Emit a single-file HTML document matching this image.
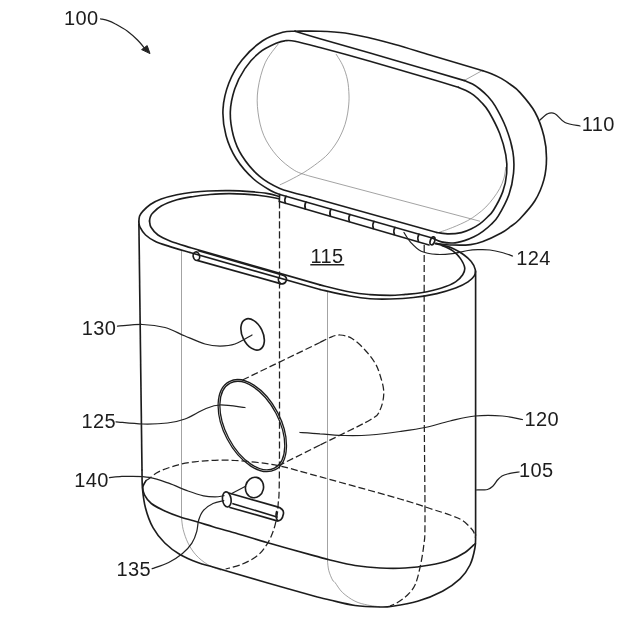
<!DOCTYPE html>
<html><head><meta charset="utf-8"><title>Fig</title>
<style>
html,body{margin:0;padding:0;background:#fff;}
body{width:640px;height:620px;overflow:hidden;}
svg{display:block;}
.m path,.m ellipse{fill:none;stroke:#1e1e1e;stroke-width:1.65;stroke-linecap:round;stroke-linejoin:round;}
.t path{fill:none;stroke:#8c8c8c;stroke-width:0.8;}
.d path{fill:none;stroke:#222;stroke-width:1.25;stroke-dasharray:7 3;}
.l path{fill:none;stroke:#222;stroke-width:1.25;stroke-linecap:round;}
text{font-family:"Liberation Sans",sans-serif;font-size:20px;letter-spacing:0.35px;fill:#1c1c1c;}
</style></head><body>
<svg width="640" height="620" viewBox="0 0 640 620">
<rect width="640" height="620" fill="#fff"/>
<defs><filter id="sf" x="0" y="0" width="640" height="620" filterUnits="userSpaceOnUse"><feGaussianBlur stdDeviation="0.4"/></filter></defs>
<g filter="url(#sf)">
<g class="t">
<path d="M464 80.6 L482 70.7"/>
<path d="M278.3 43.9 C276.1 47.0 268.6 55.3 265.2 62.8 C261.8 70.3 259.2 80.8 258.0 89.0 C256.8 97.2 257.0 104.5 258.0 112.2 C259.0 120.0 260.7 128.2 263.8 135.5 C266.9 142.8 271.8 150.0 276.9 155.8 C282.0 161.6 288.8 166.9 294.3 170.3 C299.8 173.7 307.4 175.2 310.0 176.2"/>
<path d="M310 176.2 L480 221.25"/>
<path d="M336.0 54.0 C337.2 56.0 341.1 61.7 343.0 66.0 C344.9 70.3 346.5 75.2 347.5 80.0 C348.5 84.8 348.8 90.5 349.0 95.0 C349.2 99.5 348.9 103.0 348.5 107.0 C348.1 111.0 347.4 115.2 346.5 119.0 C345.6 122.8 344.6 126.2 343.0 130.0 C341.4 133.8 339.5 138.0 337.0 142.0 C334.5 146.0 331.2 150.5 328.0 154.0 C324.8 157.5 321.5 159.9 317.5 163.0 C313.5 166.1 308.3 169.7 303.8 172.5 C299.2 175.3 294.0 177.9 290.0 180.0 C286.0 182.1 281.5 184.1 279.8 184.9"/>
<path d="M438.4 232.6 C440.8 231.8 447.6 229.5 452.5 227.5 C457.4 225.5 463.4 222.9 467.5 220.7 C471.6 218.5 473.9 216.8 477.0 214.5 C480.1 212.2 483.1 209.8 485.9 207.0 C488.6 204.2 491.2 201.1 493.5 198.0 C495.8 194.9 497.9 191.9 499.7 188.6 C501.4 185.3 503.0 181.6 504.0 178.0 C505.0 174.4 505.5 168.8 505.8 167.0"/>
<path d="M181.5 250.5 L181.5 518"/>
<path d="M181.5 518.0 C181.8 519.9 182.1 525.4 183.2 529.6 C184.3 533.8 185.9 538.8 188.0 543.0 C190.1 547.2 192.6 551.2 195.8 554.8 C199.0 558.4 203.2 561.8 207.4 564.4 C211.6 567.0 218.7 569.3 221.0 570.3"/>
<path d="M327.5 291.5 L327.5 561"/>
<path d="M327.5 561.0 C327.7 562.6 327.9 567.4 328.8 570.6 C329.6 573.8 331.5 578.0 332.5 580.0 C333.5 582.0 333.3 580.4 335.0 582.5 C336.7 584.6 339.2 589.4 342.5 592.5 C345.8 595.6 350.8 599.2 355.0 601.2 C359.2 603.3 363.3 604.1 367.5 605.0 C371.7 605.9 377.9 606.5 380.0 606.8"/>
</g>
<g class="m">
<path d="M279.8 194.5 C278.3 193.9 275.4 193.3 271.0 190.7 C266.6 188.1 259.4 184.3 253.6 179.0 C247.8 173.7 240.8 165.9 236.2 158.7 C231.6 151.4 228.2 143.7 226.0 135.5 C223.8 127.3 222.5 118.0 223.0 109.3 C223.5 100.5 225.7 91.2 228.9 83.0 C232.1 74.8 236.4 67.0 242.0 60.0 C247.6 53.0 255.5 45.6 262.3 41.0 C269.1 36.4 277.2 33.9 282.7 32.3 C288.1 30.7 292.9 31.4 295.0 31.2"/>
<path d="M295.0 31.2 C299.2 32.5 307.5 35.1 320.0 38.8 C332.5 42.4 351.7 47.7 370.0 53.0 C388.3 58.3 414.2 65.9 430.0 70.5 C445.8 75.1 458.8 78.9 464.5 80.6"/>
<path d="M464.5 80.6 C465.8 81.2 469.9 82.6 472.5 84.0 C475.1 85.4 477.2 86.9 479.8 89.0 C482.4 91.1 485.4 93.7 488.0 96.5 C490.6 99.3 492.1 100.8 495.1 105.9 C498.1 111.0 502.8 119.6 505.8 127.3 C508.8 134.9 511.6 144.1 512.9 151.8 C514.2 159.5 514.2 166.2 513.5 173.3 C512.8 180.5 511.4 187.6 508.9 194.7 C506.3 201.8 501.2 211.1 498.2 216.1 C495.2 221.1 493.6 221.9 491.0 224.5 C488.4 227.1 485.7 229.3 482.9 231.4 C480.1 233.5 477.1 235.3 474.0 236.8 C470.9 238.3 468.0 239.6 464.5 240.6 C461.0 241.6 456.8 242.8 453.0 243.0 C449.2 243.2 445.0 242.7 441.5 241.9 C438.0 241.1 433.8 238.7 432.2 238.0"/>
<path d="M279.8 194.5 L432.2 238"/>
<path d="M310.0 197.0 C305.0 195.6 288.2 191.9 279.8 188.4 C271.4 184.9 265.7 181.6 259.4 176.2 C253.1 170.8 246.3 162.6 242.0 155.8 C237.7 149.0 235.2 142.8 233.3 135.5 C231.4 128.2 230.1 120.0 230.3 112.2 C230.5 104.5 232.3 96.3 234.7 89.0 C237.1 81.7 240.8 74.7 244.9 68.6 C249.0 62.5 254.1 56.9 259.4 52.6 C264.7 48.3 272.6 45.0 276.9 43.0 C281.2 41.0 282.0 41.0 285.0 40.8 C288.0 40.5 289.2 40.1 295.0 41.2 C300.8 42.4 307.5 44.2 320.0 47.5 C332.5 50.8 351.7 56.0 370.0 61.2 C388.3 66.5 415.3 74.4 430.0 78.8 C444.7 83.1 453.7 85.9 458.4 87.3"/>
<path d="M458.4 87.3 C459.7 87.8 463.4 89.2 466.0 90.5 C468.6 91.8 471.1 93.2 473.7 95.2 C476.3 97.2 478.9 99.7 481.5 102.5 C484.1 105.3 486.0 106.8 489.0 112.0 C492.0 117.2 496.9 126.3 499.7 133.5 C502.5 140.7 504.6 148.3 505.8 154.9 C507.0 161.5 507.2 167.2 506.7 173.3 C506.2 179.4 505.0 185.5 502.8 191.6 C500.6 197.7 496.2 205.7 493.6 210.0 C491.0 214.3 489.3 215.2 487.0 217.5 C484.7 219.8 482.5 221.9 479.8 223.8 C477.1 225.7 474.1 227.5 471.0 229.0 C467.9 230.5 465.1 231.8 461.4 232.6 C457.7 233.4 453.1 233.9 449.0 233.9 C444.9 233.9 438.9 232.7 436.9 232.5"/>
<path d="M310 197 L436.9 232.5"/>
<path d="M295.0 31.2 C299.2 31.2 311.7 31.0 320.0 31.2 C328.3 31.5 336.7 31.9 345.0 33.0 C353.3 34.1 361.7 36.1 370.0 38.0 C378.3 39.9 385.0 41.7 395.0 44.5 C405.0 47.3 415.4 50.6 430.0 55.0 C444.6 59.4 474.1 68.1 482.9 70.7"/>
<path d="M482.9 70.7 C484.4 71.2 488.9 72.7 492.0 74.0 C495.1 75.3 498.1 76.7 501.2 78.4 C504.3 80.2 507.4 82.2 510.5 84.5 C513.6 86.8 515.5 87.5 519.6 92.1 C523.7 96.7 530.8 104.6 534.9 112.0 C539.0 119.4 542.1 128.8 544.0 136.5 C545.9 144.2 546.5 150.8 546.5 158.0 C546.5 165.2 545.9 172.3 544.0 179.4 C542.1 186.5 539.0 194.2 534.9 200.8 C530.8 207.4 523.7 214.9 519.6 219.2 C515.5 223.5 513.6 224.4 510.5 226.7 C507.4 229.0 505.8 230.5 501.2 233.0 C496.6 235.5 488.0 239.6 482.9 241.5 C477.8 243.4 475.7 244.0 470.6 244.6 C465.5 245.2 458.3 245.2 452.5 245.0 C446.7 244.8 438.8 243.7 436.0 243.4"/>
<path d="M279.5 201.5 L429 245"/>
<path d="M279.6 194.5 L279.3 201.5"/>
<ellipse cx="432.5" cy="240.8" rx="2.2" ry="4.1" transform="rotate(18 432.5 240.8)"/>
<path d="M286.0 196.3 q-2 3.2 -0.6 7"/>
<path d="M306.0 202.0 q-2 3.2 -0.6 7"/>
<path d="M331.0 209.1 q-2 3.2 -0.6 7"/>
<path d="M350.0 214.5 q-2 3.2 -0.6 7"/>
<path d="M374.0 221.4 q-2 3.2 -0.6 7"/>
<path d="M395.0 227.4 q-2 3.2 -0.6 7"/>
<path d="M419.0 234.2 q-2 3.2 -0.6 7"/>
<path d="M138.8 222.0 C138.9 221.0 139.0 217.7 139.6 216.0 C140.2 214.3 140.7 213.5 142.5 211.6 C144.3 209.7 147.2 206.6 150.3 204.5 C153.4 202.4 156.8 200.6 161.2 199.0 C165.7 197.4 171.7 195.8 176.9 194.7 C182.1 193.6 187.3 192.9 192.5 192.3 C197.7 191.7 201.8 191.3 208.0 191.0 C214.2 190.7 223.0 190.5 230.0 190.6 C237.0 190.7 243.7 191.1 250.0 191.6 C256.3 192.1 263.2 192.8 268.0 193.6 C272.8 194.4 277.2 195.9 279.0 196.3"/>
<path d="M435.3 243.6 C436.8 243.9 441.1 244.8 444.0 245.6 C446.9 246.4 449.3 246.8 452.5 248.3 C455.7 249.8 460.3 252.3 463.4 254.5 C466.5 256.7 469.3 259.1 471.2 261.6 C473.2 264.1 474.7 267.1 475.2 269.4 C475.7 271.7 475.6 273.5 474.4 275.6 C473.2 277.7 471.1 279.8 468.0 281.9 C464.9 284.0 460.8 286.1 455.6 288.0 C450.4 289.9 443.9 292.0 436.9 293.6 C429.9 295.2 421.2 296.6 413.4 297.5 C405.6 298.4 397.2 298.8 390.0 299.0 C382.8 299.2 376.7 299.2 370.0 298.7 C363.3 298.2 358.3 297.5 350.0 296.0 C341.7 294.5 325.0 290.6 320.0 289.5"/>
<path d="M320 289.5 L190 252.5"/>
<path d="M190.0 252.5 C186.7 251.5 175.8 248.5 170.0 246.6 C164.2 244.7 159.1 243.2 155.0 241.2 C150.9 239.3 148.1 237.3 145.6 235.0 C143.1 232.7 141.1 229.4 140.0 227.2 C138.9 225.0 139.0 222.9 138.8 222.0"/>
<path d="M149.5 221.0 C149.6 220.3 149.8 218.3 150.3 217.0 C150.8 215.7 150.9 214.8 152.7 213.0 C154.5 211.2 157.2 208.2 161.2 206.0 C165.3 203.8 171.7 201.4 176.9 199.8 C182.1 198.2 187.3 197.5 192.5 196.7 C197.7 195.8 201.8 195.2 208.0 194.7 C214.2 194.2 221.7 193.5 230.0 193.6 C238.3 193.7 249.8 194.3 258.0 195.2 C266.2 196.0 275.5 198.1 279.0 198.7"/>
<path d="M441.5 245.2 C443.3 246.1 449.4 248.4 452.5 250.6 C455.6 252.8 458.3 255.5 460.3 258.4 C462.3 261.3 464.3 265.1 464.7 267.8 C465.1 270.5 464.2 272.5 462.7 274.8 C461.2 277.1 459.1 279.7 455.6 281.9 C452.1 284.1 447.2 286.2 441.5 288.0 C435.8 289.8 427.2 291.7 421.2 292.8 C415.3 293.9 410.8 294.0 405.6 294.4 C400.4 294.8 395.9 295.4 390.0 295.4 C384.1 295.4 376.7 295.2 370.0 294.6 C363.3 294.0 358.3 293.6 350.0 292.0 C341.7 290.4 325.0 286.1 320.0 284.9"/>
<path d="M320 284.9 L190 247.5"/>
<path d="M190.0 247.5 C186.7 246.4 175.3 243.0 170.0 240.9 C164.7 238.8 161.2 237.3 158.0 235.0 C154.8 232.7 152.4 229.5 151.0 227.2 C149.6 224.9 149.8 222.0 149.5 221.0"/>
<path d="M138.9 224 L142 470"/>
<path d="M475.6 271 L475.6 535"/>
<path d="M142.0 470.0 C142.1 473.2 141.9 482.7 142.5 489.0 C143.1 495.3 143.8 501.6 145.5 508.0 C147.2 514.5 149.8 521.9 153.0 527.7 C156.2 533.5 160.2 538.5 164.8 543.0 C169.4 547.5 174.8 551.5 180.3 554.8 C185.8 558.0 192.2 560.5 197.7 562.5 C203.1 564.5 207.6 565.4 213.0 567.0 C218.4 568.6 221.0 569.4 230.0 572.0 C239.0 574.6 252.9 578.8 266.9 582.8 C280.9 586.8 303.2 593.1 313.8 596.0 C324.3 598.9 323.1 598.4 330.0 600.0 C336.9 601.6 346.7 604.3 355.0 605.5 C363.3 606.7 373.8 606.9 380.0 607.0 C386.2 607.1 386.2 607.2 392.5 606.2 C398.8 605.3 409.2 603.8 417.5 601.2 C425.8 598.8 435.4 595.0 442.5 591.2 C449.6 587.5 455.4 583.1 460.0 578.8 C464.6 574.4 467.5 570.2 470.0 565.0 C472.5 559.8 474.1 552.5 475.0 547.5 C475.9 542.5 475.5 537.1 475.6 535.0"/>
<path d="M146.0 480.6 C145.5 481.7 143.1 484.6 142.8 487.0 C142.6 489.4 143.1 492.1 144.5 494.8 C145.9 497.6 147.9 500.8 151.3 503.5 C154.7 506.2 160.0 508.8 164.8 511.0 C169.6 513.2 174.8 515.2 180.3 517.0 C185.8 518.8 192.2 520.4 197.7 522.0 C203.1 523.6 207.6 525.1 213.0 526.7 C218.4 528.3 221.0 528.9 230.0 531.5 C239.0 534.1 252.9 538.5 266.9 542.5 C280.9 546.5 303.2 552.7 313.8 555.6 C324.3 558.5 323.1 558.4 330.0 560.0 C336.9 561.6 346.7 564.2 355.0 565.5 C363.3 566.8 371.7 567.6 380.0 568.0 C388.3 568.4 396.7 568.5 405.0 568.0 C413.3 567.5 422.5 566.3 430.0 565.0 C437.5 563.7 444.2 562.1 450.0 560.0 C455.8 557.9 460.8 555.2 465.0 552.5 C469.2 549.8 473.6 545.0 475.3 543.5"/>
<path d="M198.5 250.7 L283 275.2"/>
<path d="M198 260.6 L280.5 283.6"/>
<ellipse cx="196.4" cy="256.2" rx="3.2" ry="4.3" transform="rotate(-12 196.4 256.2)"/>
<path d="M283 275.2 C286 276.2 287 278.5 286.3 280.5 C285.3 283.5 283 284.4 280.5 283.6"/>
<path d="M278.6 277.5 C278 280 279 282.5 280.5 283.6"/>
<ellipse cx="252.6" cy="334.4" rx="10.2" ry="16.7" transform="rotate(-26 252.6 334.4)"/>
<ellipse cx="252.3" cy="425.6" rx="28.5" ry="49.7" transform="rotate(-27.6 252.3 425.6)" style="stroke-width:1.3"/>
<ellipse cx="252.3" cy="425.6" rx="26.7" ry="47.9" transform="rotate(-27.6 252.3 425.6)" style="stroke-width:1.3"/>
<ellipse cx="254.5" cy="487.5" rx="9" ry="10.3" transform="rotate(12 254.5 487.5)"/>
<path d="M228.75 493 L277.5 506.9"/>
<path d="M230 507.5 L276.25 520.6"/>
<path d="M233 503.7 L277 517"/>
<ellipse cx="226.8" cy="499.4" rx="4.3" ry="7.6" transform="rotate(-8 226.8 499.4)"/>
<path d="M277.5 506.9 C282 508.3 284 511 283.4 514 C282.6 519 280 521.6 276.25 520.6"/>
<path d="M276.6 511.5 C275.6 515 276 518.5 277.8 520.8"/>
</g>
<g class="d">
<path d="M279.5 201.5 C279.5 217.9 279.5 255.2 279.5 300.0 C279.5 344.8 279.6 435.8 279.4 470.0 C279.2 504.2 278.6 496.7 278.1 505.0 C277.6 513.3 277.2 515.3 276.2 520.0 C275.3 524.7 274.1 528.9 272.5 533.0 C270.9 537.1 269.4 540.6 266.9 544.4 C264.4 548.2 261.6 552.3 257.5 555.6 C253.4 558.9 247.8 561.8 242.5 564.0 C237.2 566.2 228.4 568.2 225.6 569.0"/>
<path d="M424.2 245.0 C424.2 270.8 424.1 354.2 424.2 400.0 C424.3 445.8 425.1 495.8 425.0 520.0 C424.9 544.2 424.6 537.1 423.8 545.0 C422.9 552.9 421.5 560.8 420.0 567.5 C418.5 574.2 417.1 580.4 415.0 585.0 C412.9 589.6 410.4 592.1 407.5 595.0 C404.6 597.9 400.4 600.7 397.5 602.5 C394.6 604.3 391.2 605.4 390.0 606.0"/>
<path d="M146.0 480.6 C146.6 480.2 147.1 479.9 149.3 478.4 C151.5 476.9 154.2 473.9 159.0 471.6 C163.8 469.3 172.0 466.5 178.4 464.8 C184.8 463.1 191.6 462.2 197.7 461.5 C203.8 460.8 208.8 460.5 215.0 460.3 C221.2 460.1 227.8 460.1 235.0 460.5 C242.2 460.9 250.5 461.6 258.0 462.5 C265.5 463.4 271.3 464.1 280.0 466.0 C288.7 467.9 290.0 468.5 310.0 474.0 C330.0 479.5 380.0 493.2 400.0 499.0 C420.0 504.8 421.7 505.8 430.0 508.5 C438.3 511.2 444.6 513.0 450.0 515.0 C455.4 517.0 458.8 518.0 462.5 520.5 C466.2 523.0 470.3 527.2 472.5 530.0 C474.7 532.8 475.0 536.2 475.5 537.5"/>
<path d="M242.5 380 L320 342.5"/>
<path d="M320.0 342.5 C321.7 341.7 326.7 338.8 330.0 337.5 C333.3 336.2 336.3 334.8 340.0 335.0 C343.7 335.2 347.8 336.0 352.0 338.5 C356.2 341.0 361.2 345.9 365.0 350.0 C368.8 354.1 372.5 358.8 375.0 363.0 C377.5 367.2 378.5 370.1 380.0 375.0 C381.5 379.9 383.8 386.7 383.8 392.5 C383.8 398.3 382.3 405.4 380.0 410.0 C377.7 414.6 380.0 414.2 370.0 420.0 C360.0 425.8 328.3 440.8 320.0 445.0"/>
<path d="M320 445 L280 465"/>
</g>
<g class="l">
<path d="M100.6 18.8 C101.8 19.1 105.6 19.8 108.0 20.6 C110.4 21.4 111.8 22.0 115.0 23.8 C118.2 25.5 123.8 28.5 127.5 31.2 C131.2 34.0 134.6 37.1 137.5 40.0 C140.4 42.9 143.8 47.3 145.0 48.8"/>
<path d="M540.0 120.0 C541.2 119.0 545.0 114.8 547.5 113.8 C550.0 112.7 552.1 112.3 555.0 113.8 C557.9 115.2 560.8 120.5 565.0 122.5 C569.2 124.5 577.5 125.4 580.0 126.0"/>
<path d="M404.0 232.5 C405.1 234.1 407.4 238.8 410.3 241.9 C413.2 245.0 416.8 249.2 421.2 251.2 C425.7 253.3 431.7 254.0 436.9 254.4 C442.1 254.8 447.3 254.2 452.5 253.6 C457.7 252.9 463.6 251.2 468.0 250.5 C472.4 249.8 475.3 249.8 479.0 249.7 C482.7 249.6 486.2 249.5 490.0 250.0 C493.8 250.5 498.2 251.5 502.0 252.5 C505.8 253.5 510.8 255.4 512.5 256.0"/>
<path d="M117.5 326.2 C121.7 326.0 134.6 324.3 142.5 324.5 C150.4 324.7 157.9 325.6 165.0 327.5 C172.1 329.4 178.3 333.2 185.0 336.0 C191.7 338.8 199.2 342.3 205.0 344.0 C210.8 345.7 215.0 346.0 220.0 346.0 C225.0 346.0 229.7 345.8 235.0 344.0 C240.3 342.2 249.2 336.5 252.0 335.0"/>
<path d="M116.0 421.8 C120.4 422.1 133.9 423.8 142.5 424.0 C151.1 424.2 160.4 423.8 167.5 423.0 C174.6 422.2 178.8 421.3 185.0 419.0 C191.2 416.7 199.2 411.3 205.0 409.0 C210.8 406.7 213.3 405.2 220.0 405.0 C226.7 404.8 240.8 407.1 245.0 407.5"/>
<path d="M300.0 432.5 C303.3 432.7 312.5 433.2 320.0 433.8 C327.5 434.2 336.7 435.3 345.0 435.5 C353.3 435.7 360.8 435.7 370.0 435.0 C379.2 434.3 390.8 432.8 400.0 431.5 C409.2 430.2 416.7 429.2 425.0 427.5 C433.3 425.8 441.7 422.9 450.0 421.0 C458.3 419.1 466.2 416.8 475.0 416.0 C483.8 415.2 494.6 415.4 502.5 416.0 C510.4 416.6 519.2 418.9 522.5 419.5"/>
<path d="M476.0 490.0 C477.9 489.9 484.7 490.2 487.5 489.5 C490.3 488.8 491.3 487.6 493.0 486.0 C494.7 484.4 496.0 481.7 497.5 480.0 C499.0 478.3 500.3 477.0 502.0 476.0 C503.7 475.0 504.7 474.7 507.5 474.0 C510.3 473.3 517.1 472.3 519.0 472.0"/>
<path d="M109.5 477.6 C111.2 477.4 116.6 476.8 120.0 476.6 C123.4 476.4 125.1 476.2 130.0 476.3 C134.9 476.4 142.9 476.2 149.3 477.4 C155.8 478.5 162.2 480.9 168.7 483.2 C175.1 485.5 182.2 488.9 188.0 491.0 C193.8 493.1 199.0 494.8 203.5 495.8 C208.0 496.8 211.6 496.9 215.0 496.9 C218.4 496.9 222.5 495.9 224.0 495.7"/>
<path d="M231.25 493.75 L245.6 486.25"/>
<path d="M152.2 568.7 C154.9 567.7 163.7 565.0 168.7 562.5 C173.7 560.0 178.3 557.0 182.2 553.8 C186.1 550.6 189.5 546.9 191.9 543.2 C194.3 539.5 195.6 535.5 196.7 531.6 C197.8 527.7 197.6 523.5 198.7 520.0 C199.8 516.5 201.1 513.0 203.5 510.3 C205.9 507.6 209.6 505.1 213.0 503.5 C216.4 501.9 222.0 501.1 223.8 500.6"/>
</g>
<path d="M150 53.6 L141.6 49.6 L147.2 45.6 Z" fill="#222" stroke="#222" stroke-width="1" stroke-linejoin="round"/>
<path d="M310.3 264.7 H344.2" stroke="#222" stroke-width="1.5" fill="none"/>
<text x="64" y="25.2">100</text>
<text x="581.8" y="131">110</text>
<text x="516.3" y="265">124</text>
<text x="310.6" y="262.7">115</text>
<text x="81.8" y="334.8">130</text>
<text x="81.6" y="427.8">125</text>
<text x="524.6" y="425.8">120</text>
<text x="519" y="477.3">105</text>
<text x="74.2" y="487">140</text>
<text x="116.6" y="576.2">135</text>
</g>
</svg>
</body></html>
